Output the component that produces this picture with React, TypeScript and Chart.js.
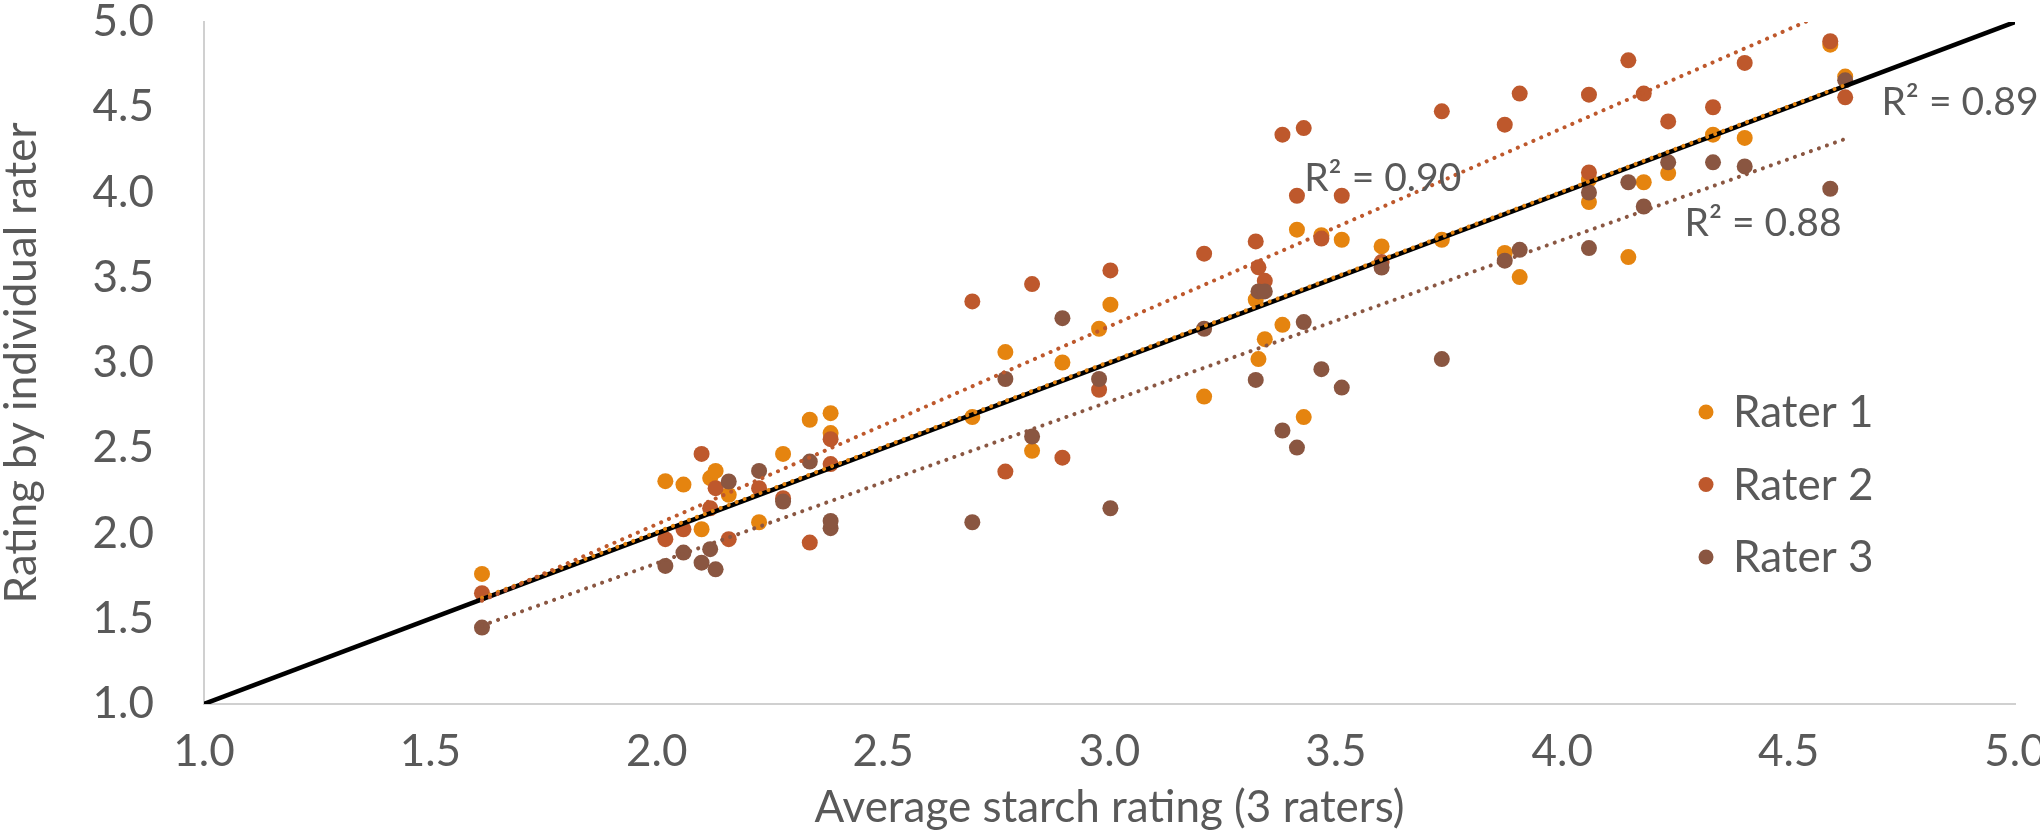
import React, { useEffect, useRef } from 'react';
import { Chart, registerables } from 'chart.js';

Chart.register(...registerables);

// Average starch rating of the 3 raters (x) for each sample
const avgRating = [
  1.614, 2.019, 2.059, 2.099, 2.118, 2.130, 2.159, 2.226, 2.279, 2.338,
  2.384, 2.384, 2.697, 2.770, 2.829, 2.896, 2.977, 3.002, 3.209, 3.323,
  3.329, 3.343, 3.382, 3.414, 3.429, 3.468, 3.513, 3.601, 3.734, 3.873,
  3.906, 4.059, 4.059, 4.146, 4.180, 4.234, 4.333, 4.403, 4.592, 4.625,
];
const rater1 = [
  1.763, 2.307, 2.287, 2.025, 2.325, 2.367, 2.227, 2.066, 2.467, 2.667,
  2.706, 2.589, 2.683, 3.064, 2.485, 3.003, 3.201, 3.342, 2.803, 3.371,
  3.023, 3.140, 3.224, 3.782, 2.683, 3.750, 3.723, 3.684, 3.723, 3.645,
  3.504, 3.944, 4.075, 3.621, 4.060, 4.114, 4.339, 4.320, 4.867, 4.680,
];
const rater2 = [
  1.650, 1.967, 2.025, 2.467, 2.148, 2.266, 1.967, 2.266, 2.207, 1.947,
  2.407, 2.553, 3.361, 2.363, 3.463, 2.445, 2.843, 3.543, 3.641, 3.713,
  3.561, 3.482, 4.339, 3.981, 4.378, 3.730, 3.981, 3.592, 4.476, 4.398,
  4.580, 4.574, 4.118, 4.775, 4.580, 4.417, 4.500, 4.760, 4.887, 4.558,
];
const rater3 = [
  1.448, 1.810, 1.888, 1.829, 1.908, 1.790, 2.305, 2.367, 2.187, 2.422,
  2.031, 2.074, 2.066, 2.906, 2.569, 3.263, 2.906, 2.148, 3.201, 2.901,
  3.420, 3.420, 2.604, 2.504, 3.240, 2.964, 2.856, 3.560, 3.023, 3.600,
  3.664, 3.674, 4.000, 4.060, 3.918, 4.177, 4.177, 4.153, 4.022, 4.658,
];

const raterNames = ['Rater 1', 'Rater 2', 'Rater 3'];
const raterColors = ['#E5840F', '#BE582C', '#8A5641'];
const r2Texts = ['R² = 0.89', 'R² = 0.90', 'R² = 0.88'];
const r2TextX = [4.705, 3.43, 4.27];
const r2TextY = [4.53, 4.085, 3.82];
const identityLine = [1.0, 5.0];
const axisMin = 1.0;
const axisMax = 5.0;
const axisStep = 0.5;
const xTitle = 'Average starch rating (3 raters)';
const yTitle = 'Rating by individual rater';

const FONT = 'Lato';
const TEXT_COLOR = '#595959';
const FONT_SIZE = 44;
const R2_FONT_SIZE = 39;

function linearFit(xs: number[], ys: number[]) {
  const n = xs.length;
  let sx = 0, sy = 0, sxx = 0, sxy = 0;
  for (let i = 0; i < n; i++) {
    sx += xs[i]; sy += ys[i]; sxx += xs[i] * xs[i]; sxy += xs[i] * ys[i];
  }
  const b = (n * sxy - sx * sy) / (n * sxx - sx * sx);
  const a = (sy - b * sx) / n;
  return { a, b };
}

export default function App() {
  const canvasRef = useRef<HTMLCanvasElement | null>(null);

  useEffect(() => {
    const canvas = canvasRef.current;
    if (!canvas) return;
    const raters = [rater1, rater2, rater3];
    const xMin = Math.min(...avgRating);
    const xMax = Math.max(...avgRating);

    const pointSets: any[] = raters.map((ys, i) => ({
      label: raterNames[i],
      data: avgRating.map((x, j) => ({ x, y: ys[j] })),
      backgroundColor: raterColors[i],
      borderColor: raterColors[i],
      borderWidth: 0,
      pointRadius: 8,
      pointHoverRadius: 8,
      showLine: false,
      order: 30 - i * 5,
    }));

    // Orange trend: pooled fit of all ratings; red/brown: fits of Rater 2 and Rater 3
    const pooledX = [...avgRating, ...avgRating, ...avgRating];
    const pooledY = [...rater1, ...rater2, ...rater3];
    const fits = [
      linearFit(pooledX, pooledY),
      linearFit(avgRating, rater2),
      linearFit(avgRating, rater3),
    ];

    const trendSets: any[] = fits.map(({ a, b }, i) => ({
      label: raterNames[i] + ' trend',
      data: [
        { x: xMin, y: a + b * xMin },
        { x: xMax, y: a + b * xMax },
      ],
      borderColor: raterColors[i],
      backgroundColor: raterColors[i],
      borderWidth: 4,
      borderDash: [0.1, 8.4],
      borderCapStyle: 'round',
      pointRadius: 0,
      showLine: true,
      clip: 0,
      order: 3 - i,
    }));

    const identitySet: any = {
      label: 'identity',
      data: identityLine.map((v) => ({ x: v, y: v })),
      borderColor: '#000000',
      borderWidth: 4.5,
      pointRadius: 0,
      showLine: true,
      clip: 0,
      order: 5,
    };

    const overlayPlugin = {
      id: 'overlay',
      afterDraw(chart: any) {
        const { ctx, chartArea, scales } = chart;
        const xs = scales.x;
        const ys = scales.y;
        ctx.save();
        ctx.fillStyle = TEXT_COLOR;
        ctx.textBaseline = 'middle';
        ctx.textAlign = 'left';
        ctx.font = `${R2_FONT_SIZE}px ${FONT}`;
        for (let i = 0; i < r2Texts.length; i++) {
          ctx.fillText(r2Texts[i], xs.getPixelForValue(r2TextX[i]), ys.getPixelForValue(r2TextY[i]));
        }
        // legend
        ctx.font = `${FONT_SIZE}px ${FONT}`;
        const lx = chartArea.right - 309;
        const ly0 = chartArea.top + 390;
        const gap = 72.5;
        for (let i = 0; i < raterNames.length; i++) {
          const y = ly0 + i * gap;
          ctx.beginPath();
          ctx.fillStyle = raterColors[i];
          ctx.arc(lx, y, 7.5, 0, Math.PI * 2);
          ctx.fill();
          ctx.fillStyle = TEXT_COLOR;
          ctx.fillText(raterNames[i], lx + 27, y + 1);
        }
        ctx.restore();
      },
    };

    const tickFont = { family: FONT, size: FONT_SIZE, lineHeight: 1.0 };

    const chart = new Chart(canvas, {
      type: 'scatter',
      data: { datasets: [...pointSets, identitySet, ...trendSets] },
      options: {
        animation: false,
        responsive: true,
        maintainAspectRatio: false,
        layout: { padding: { top: 22, right: 25, left: 0, bottom: 0 } },
        plugins: {
          legend: { display: false },
          tooltip: { enabled: false },
        },
        scales: {
          x: {
            type: 'linear',
            min: axisMin,
            max: axisMax,
            grid: { display: false, drawTicks: false },
            border: { display: true, color: '#D0D0D0', width: 2 },
            ticks: {
              stepSize: axisStep,
              color: TEXT_COLOR,
              font: tickFont,
              padding: 26,
              callback: (v: any) => Number(v).toFixed(1),
            },
            title: {
              display: true,
              text: xTitle,
              color: TEXT_COLOR,
              font: { family: FONT, size: FONT_SIZE, lineHeight: 1.2 },
              padding: { top: 0, bottom: 2 },
            },
            afterFit(scale: any) {
              scale.height = 132;
              scale.paddingRight = 25;
              scale.paddingLeft = 0;
            },
          },
          y: {
            type: 'linear',
            min: axisMin,
            max: axisMax,
            grid: { display: false, drawTicks: false },
            border: { display: true, color: '#D0D0D0', width: 2 },
            ticks: {
              stepSize: axisStep,
              color: TEXT_COLOR,
              font: tickFont,
              padding: 50,
              callback: (v: any) => Number(v).toFixed(1),
            },
            title: {
              display: true,
              text: yTitle,
              color: TEXT_COLOR,
              font: { family: FONT, size: FONT_SIZE, lineHeight: 1.0 },
              padding: { top: 0, bottom: 0 },
            },
            afterFit(scale: any) {
              scale.width = 204;
              scale.paddingTop = 0;
              scale.paddingBottom = 0;
            },
          },
        },
      },
      plugins: [overlayPlugin],
    });

    return () => chart.destroy();
  }, []);

  return (
    <div style={{ position: 'absolute', left: 0, top: 0, width: 2040, height: 836, background: '#ffffff' }}>
      <canvas ref={canvasRef} />
    </div>
  );
}
